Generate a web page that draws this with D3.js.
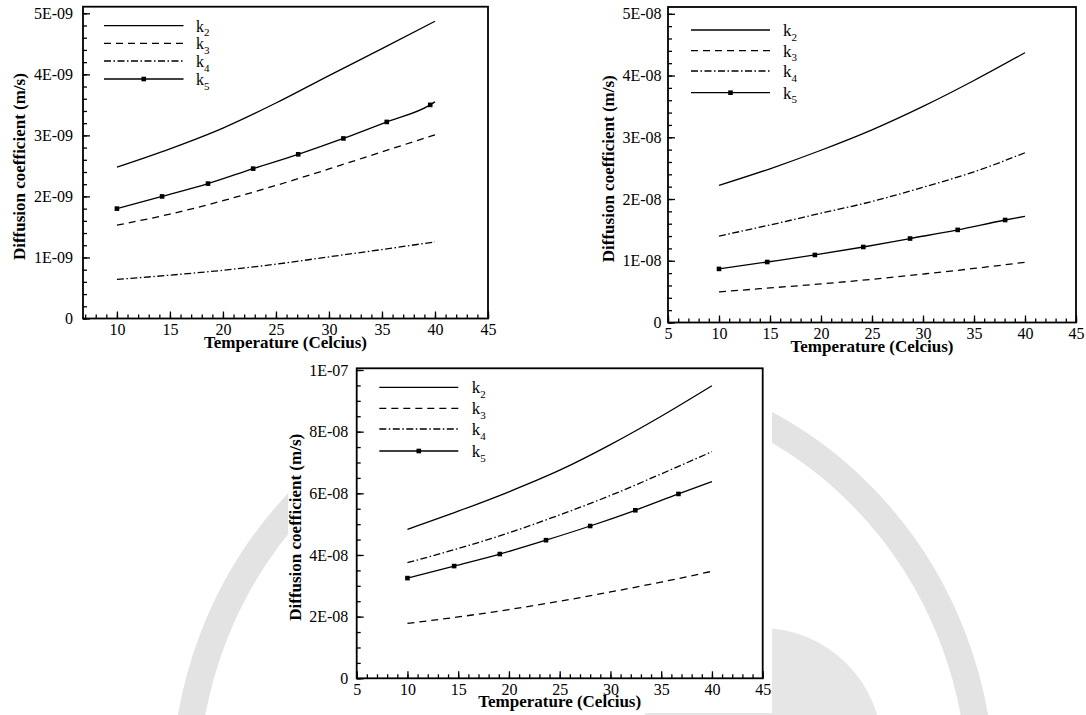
<!DOCTYPE html>
<html><head><meta charset="utf-8">
<script src="https://cdn.jsdelivr.net/npm/d3@7"></script>
<style>body{margin:0;background:#fff}svg{display:block}
svg text{font-family:"Liberation Serif","Times New Roman",Times,"DejaVu Serif",serif}</style></head>
<body>
<svg id="c" width="1086" height="715"></svg>
<script>
// ---------- data ----------
const temps = [10, 15, 20, 25, 30, 35, 40];
const legendSubs = ["2", "3", "4", "5"];
const xTickVals = [5, 10, 15, 20, 25, 30, 35, 40, 45];
const xTickLabels = ["5", "10", "15", "20", "25", "30", "35", "40", "45"];

// Panel 1 (E-09)
const p1K2 = [2.48e-9, 2.78e-9, 3.12e-9, 3.53e-9, 3.98e-9, 4.42e-9, 4.87e-9];
const p1K3 = [1.53e-9, 1.71e-9, 1.93e-9, 2.18e-9, 2.45e-9, 2.73e-9, 3.01e-9];
const p1K4 = [0.64e-9, 0.71e-9, 0.79e-9, 0.89e-9, 1.01e-9, 1.13e-9, 1.255e-9];
const p1K5T = [10, 14.26, 18.59, 22.85, 27.1, 31.36, 35.45, 39.55, 40];
const p1K5 = [1.80e-9, 2.00e-9, 2.21e-9, 2.455e-9, 2.69e-9, 2.95e-9, 3.22e-9, 3.50e-9, 3.55e-9];
const p1YTicks = [0, 1e-9, 2e-9, 3e-9, 4e-9, 5e-9];
const p1YLabels = ["0", "1E-09", "2E-09", "3E-09", "4E-09", "5E-09"];

// Panel 2 (E-08)
const p2K2 = [2.22e-8, 2.49e-8, 2.79e-8, 3.12e-8, 3.50e-8, 3.92e-8, 4.37e-8];
const p2K3 = [0.496e-8, 0.56e-8, 0.625e-8, 0.70e-8, 0.785e-8, 0.875e-8, 0.976e-8];
const p2K4 = [1.40e-8, 1.58e-8, 1.77e-8, 1.96e-8, 2.19e-8, 2.44e-8, 2.75e-8];
const p2K5T = [10, 14.73, 19.4, 24.15, 28.73, 33.4, 38.05, 40];
const p2K5 = [0.868e-8, 0.98e-8, 1.094e-8, 1.223e-8, 1.36e-8, 1.50e-8, 1.66e-8, 1.72e-8];
const p2YTicks = [0, 1e-8, 2e-8, 3e-8, 4e-8, 5e-8];
const p2YLabels = ["0", "1E-08", "2E-08", "3E-08", "4E-08", "5E-08"];

// Panel 3 (E-08)
const p3K2 = [4.83e-8, 5.42e-8, 6.05e-8, 6.75e-8, 7.58e-8, 8.50e-8, 9.49e-8];
const p3K3 = [1.78e-8, 1.99e-8, 2.23e-8, 2.50e-8, 2.80e-8, 3.12e-8, 3.47e-8];
const p3K4 = [3.75e-8, 4.21e-8, 4.72e-8, 5.30e-8, 5.93e-8, 6.63e-8, 7.35e-8];
const p3K5T = [10, 14.6, 19.1, 23.65, 28.0, 32.45, 36.7, 40];
const p3K5 = [3.25e-8, 3.64e-8, 4.03e-8, 4.48e-8, 4.94e-8, 5.45e-8, 5.98e-8, 6.38e-8];
const p3YTicks = [0, 2e-8, 4e-8, 6e-8, 8e-8, 1e-7];
const p3YLabels = ["0", "2E-08", "4E-08", "6E-08", "8E-08", "1E-07"];

// ---------- layout / style ----------
const FONT = '"Liberation Serif","Times New Roman",Times,"DejaVu Serif",serif';
const DASH = { k2: null, k3: "7,5", k4: "7,2.5,1.5,2.5", k5: null };
const svg = d3.select("#c");

// faint background watermark ring (decoration of source page)
const wm = svg.append("g");
wm.append("ellipse").attr("cx", 583).attr("cy", 790).attr("rx", 398).attr("ry", 412)
  .attr("fill", "none").attr("stroke", "#e3e3e3").attr("stroke-width", 27);
wm.append("circle").attr("cx", 761).attr("cy", 749).attr("r", 121).attr("fill", "#e6e6e6");

const panels = [
  { bg: [0, 0, 495, 355], L: 83, R: 488, T: 6.7, B: 318.5, xd: [6.8, 45], yMax: 5.108e-9,
    yTicks: p1YTicks, yLabels: p1YLabels, yMinorStep: 0.2e-9, xMinorFrom: 7,
    k2: p1K2, k3: p1K3, k4: p1K4, k5T: p1K5T, k5: p1K5, gap: 10,
    yTitleX: 19, leg: { x1: 104, x2: 183.5, lx: 196, ys: [25.7, 43.3, 61, 79], fs: 16 } },
  { bg: [597, 0, 489, 356], L: 668, R: 1076, T: 7, B: 322.5, xd: [5, 45], yMax: 5.11e-8,
    yTicks: p2YTicks, yLabels: p2YLabels, yMinorStep: 0.2e-8, xMinorFrom: 5,
    k2: p2K2, k3: p2K3, k4: p2K4, k5T: p2K5T, k5: p2K5, gap: 6.5,
    yTitleX: 608.5, leg: { x1: 691, x2: 770, lx: 783, ys: [30, 50.7, 71, 92.7], fs: 17 } },
  { bg: [288, 357, 484, 356], L: 356.7, R: 762.7, T: 368.3, B: 678.3, xd: [5, 45], yMax: 1.0055e-7,
    yTicks: p3YTicks, yLabels: p3YLabels, yMinorStep: 0.5e-8, xMinorFrom: 5,
    k2: p3K2, k3: p3K3, k4: p3K4, k5T: p3K5T, k5: p3K5, gap: 8.4,
    yTitleX: 295, leg: { x1: 379.3, x2: 458.3, lx: 471.7, ys: [387.3, 408.3, 429, 451], fs: 17 } }
];

panels.forEach(p => {
  svg.append("rect").attr("x", p.bg[0]).attr("y", p.bg[1]).attr("width", p.bg[2]).attr("height", p.bg[3]).attr("fill", "#fff");
});

panels.forEach(p => {
  const g = svg.append("g");
  const x = d3.scaleLinear().domain(p.xd).range([p.L, p.R]);
  const y = d3.scaleLinear().domain([0, p.yMax]).range([p.B, p.T]);

  // minor ticks
  const yMinor = d3.range(0, p.yMax + 1e-20, p.yMinorStep).filter(v => y(v) >= p.T);
  const xMinor = d3.range(p.xMinorFrom, 45.001, 1);
  g.append("g").attr("transform", `translate(${p.L},0)`)
    .call(d3.axisLeft(y).tickValues(yMinor).tickSize(-4).tickFormat(""))
    .call(a => a.select(".domain").remove());
  g.append("g").attr("transform", `translate(0,${p.B})`)
    .call(d3.axisBottom(x).tickValues(xMinor).tickSize(-4).tickFormat(""))
    .call(a => a.select(".domain").remove());

  // major ticks with labels
  const ya = g.append("g").attr("transform", `translate(${p.L},0)`)
    .call(d3.axisLeft(y).tickValues(p.yTicks).tickSize(-7).tickPadding(p.gap)
      .tickFormat((d, i) => p.yLabels[i]));
  ya.select(".domain").remove();
  const xa = g.append("g").attr("transform", `translate(0,${p.B})`)
    .call(d3.axisBottom(x).tickValues(xTickVals.filter(v => v >= p.xd[0])).tickSize(-7).tickPadding(5)
      .tickFormat(d => xTickLabels[xTickVals.indexOf(d)]));
  xa.select(".domain").remove();
  g.selectAll("g").attr("font-family", null);
  g.selectAll(".tick line").attr("stroke", "#000").attr("stroke-width", 1.3);
  g.selectAll(".tick text").style("font-family", FONT).attr("font-size", 16).attr("fill", "#000");

  // frame
  g.append("rect").attr("x", p.L).attr("y", p.T).attr("width", p.R - p.L).attr("height", p.B - p.T)
    .attr("fill", "none").attr("stroke", "#000").attr("stroke-width", 1.8);

  // lines
  const line = d3.line().x(d => x(d[0])).y(d => y(d[1])).curve(d3.curveMonotoneX);
  const ser = [
    { key: "k2", pts: temps.map((t, i) => [t, p.k2[i]]) },
    { key: "k3", pts: temps.map((t, i) => [t, p.k3[i]]) },
    { key: "k4", pts: temps.map((t, i) => [t, p.k4[i]]) },
    { key: "k5", pts: p.k5T.map((t, i) => [t, p.k5[i]]) }
  ];
  ser.forEach(s => {
    g.append("path").attr("d", line(s.pts)).attr("fill", "none").attr("stroke", "#000")
      .attr("stroke-width", 1.3).attr("stroke-dasharray", DASH[s.key]);
  });
  const mk = ser[3].pts.slice(0, ser[3].pts.length - 1);
  g.selectAll(null).data(mk).enter().append("rect")
    .attr("x", d => x(d[0]) - 2.3).attr("y", d => y(d[1]) - 2.3)
    .attr("width", 4.6).attr("height", 4.6).attr("fill", "#000");

  // axis titles
  g.append("text").attr("x", (p.L + p.R) / 2).attr("y", p.B + 29).attr("text-anchor", "middle")
    .style("font-family", FONT).attr("font-weight", "bold").attr("font-size", 17).text("Temperature (Celcius)");
  g.append("text").attr("transform", `translate(${p.yTitleX},${(p.T + p.B) / 2 + 4}) rotate(-90)`)
    .attr("text-anchor", "middle").attr("dy", "0.35em")
    .style("font-family", FONT).attr("font-weight", "bold").attr("font-size", 17).text("Diffusion coefficient (m/s)");

  // legend
  const lg = p.leg;
  ["k2", "k3", "k4", "k5"].forEach((k, i) => {
    const yy = lg.ys[i];
    g.append("line").attr("x1", lg.x1).attr("x2", lg.x2).attr("y1", yy).attr("y2", yy)
      .attr("stroke", "#000").attr("stroke-width", 1.3).attr("stroke-dasharray", DASH[k]);
    if (k === "k5") {
      g.append("rect").attr("x", (lg.x1 + lg.x2) / 2 - 2.3).attr("y", yy - 2.3)
        .attr("width", 4.6).attr("height", 4.6).attr("fill", "#000");
    }
    const t = g.append("text").attr("x", lg.lx).attr("y", yy + 6)
      .style("font-family", FONT).attr("font-size", lg.fs).text("k");
    t.append("tspan").attr("dy", 4.5).attr("font-size", 11).text(legendSubs[i]);
  });
});
</script>
</body></html>
